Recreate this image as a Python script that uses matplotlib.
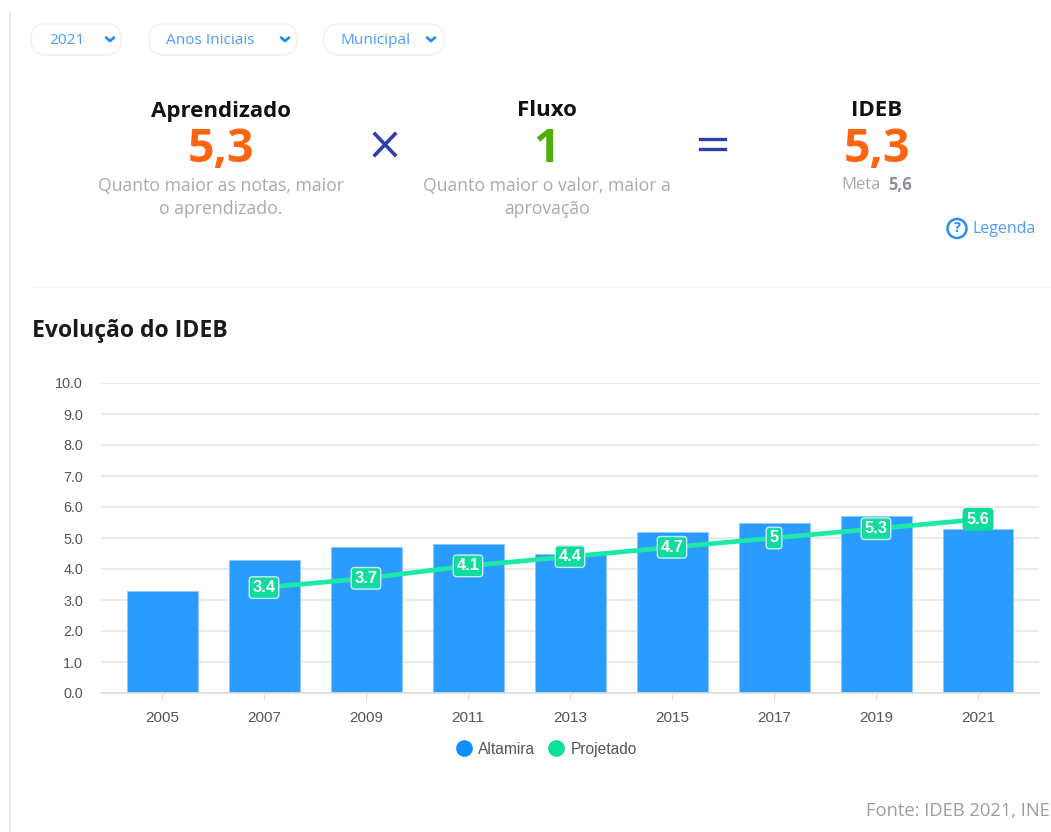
import matplotlib
matplotlib.use('Agg')
import matplotlib.pyplot as plt
from matplotlib.lines import Line2D
from matplotlib.patches import FancyBboxPatch, Circle

W, H = 1051, 832

years = ['2005', '2007', '2009', '2011', '2013', '2015', '2017', '2019', '2021']
altamira = [3.3, 4.3, 4.7, 4.8, 4.5, 5.2, 5.5, 5.7, 5.3]
projetado = [None, 3.4, 3.7, 4.1, 4.4, 4.7, 5, 5.3, 5.6]
y_ticks = [0, 1, 2, 3, 4, 5, 6, 7, 8, 9, 10]

filters = ['2021', 'Anos Iniciais', 'Municipal']
headers = ['Aprendizado', 'Fluxo', 'IDEB']
scores = ['5,3', '1', '5,3']

BLUE = '#2b9cff'
GREEN = '#1de9a6'
LABEL = '#0fdc9c'
ORANGE = '#ff6410'
GREY = '#a9a9b2'
UI = 'Open Sans'
AX_FONT = 'Liberation Sans'

fig = plt.figure(figsize=(W / 100, H / 100), dpi=100)

# page layer, in pixels
page = fig.add_axes([0, 0, 1, 1])
page.set_xlim(0, W)
page.set_ylim(H, 0)
page.axis('off')

page.plot([10, 10], [13, H], color='#e9e9e9', lw=1.2)
page.plot([31, W], [287, 287], color='#f6f6f6', lw=1)

pills = [(31, 121, 49, 110), (149, 297, 166, 285), (324, 444, 341, 431)]
for (x0, x1, tx, cx), label in zip(pills, filters):
    page.add_patch(FancyBboxPatch((x0 + 15, 24 + 15), x1 - x0 - 30, 1,
                                  boxstyle='round,pad=15', fc='white', ec='#f0f0f3', lw=1.1))
    page.text(tx, 40.5, label, color='#4a9dff', fontsize=11.1, family=UI, va='center')
    page.plot([cx - 4, cx, cx + 4], [37.5, 41, 37.5], color='#1c8cf5', lw=1.9,
              solid_capstyle='round', solid_joinstyle='round')

centers = [221, 547, 877]
colors = [ORANGE, '#4fae0a', ORANGE]
for cx, head, score, col in zip(centers, headers, scores, colors):
    page.text(cx, 111, head, color='#111111', fontsize=16, family=UI, fontweight='bold',
              ha='center', va='center')
    page.text(cx, 150, score, color=col, fontsize=33.5, family=UI, fontweight='bold',
              ha='center', va='center')

page.text(221, 186, 'Quanto maior as notas, maior', color=GREY, fontsize=12.7, family=UI,
          ha='center', va='center')
page.text(221, 209, 'o aprendizado.', color=GREY, fontsize=12.7, family=UI,
          ha='center', va='center')
page.text(547, 186, 'Quanto maior o valor, maior a', color=GREY, fontsize=12.7, family=UI,
          ha='center', va='center')
page.text(547, 209, 'aprovação', color=GREY, fontsize=12.7, family=UI,
          ha='center', va='center')
page.text(841, 185, 'Meta', color=GREY, fontsize=12, family=UI, va='center')
page.text(888, 185, '5,6', color='#8f8f99', fontsize=12, family=UI, fontweight='bold', va='center')

# operators
page.plot([375, 395], [134, 155], color='#2f3fa8', lw=2.6)
page.plot([395, 375], [134, 155], color='#2f3fa8', lw=2.6)
page.plot([700, 725], [139, 139], color='#2f3fa8', lw=2.4)
page.plot([700, 725], [149, 149], color='#2f3fa8', lw=2.4)

# legenda link
page.add_patch(Circle((957, 228.5), 9.5, fc='white', ec='#2a8cf5', lw=1.8))
page.text(957, 228.5, '?', color='#2a8cf5', fontsize=10.5, fontweight='bold', family=UI,
          ha='center', va='center')
page.text(973, 229, 'Legenda', color='#4a9dff', fontsize=11.5, family=UI, va='center')

page.text(32, 331, 'Evolução do IDEB', color='#1a1a1a', fontsize=16.6, family=UI,
          fontweight='bold', va='center')
page.text(W - 1, 811, 'Fonte: IDEB 2021, INE', color='#9c9ca3', fontsize=13.2, family=UI,
          ha='right', va='center')

# chart
left, right, top, bottom = 101, 1039, 383, 693
ax = fig.add_axes([left / W, 1 - bottom / H, (right - left) / W, (bottom - top) / H])
ax.patch.set_alpha(0)
pad = 10 / 102
ax.set_xlim(-0.5 - pad, 8.5 + pad)
ax.set_ylim(0, 10)
x = list(range(len(years)))

ax.bar(x, altamira, width=71 / 102, color=BLUE, edgecolor='#8cc8ff', linewidth=0.6, zorder=2)
px = [i for i, v in zip(x, projetado) if v is not None]
py = [v for v in projetado if v is not None]
ax.plot(px, py, color=GREEN, lw=3.4, zorder=3, solid_capstyle='butt')

for i, v in zip(px, py):
    edge = LABEL if i == px[-1] else '#c8ecff'
    ax.text(i, v, str(v), color='white', fontsize=11.8, fontweight='bold', family=AX_FONT,
            ha='center', va='center', zorder=4,
            bbox=dict(boxstyle='round,pad=0.2,rounding_size=0.2', fc=LABEL, ec=edge, lw=1))

for s in ['top', 'right', 'left']:
    ax.spines[s].set_visible(False)
ax.spines['bottom'].set_color('#dddddd')
ax.spines['bottom'].set_linewidth(1.2)
ax.set_xticks(x)
ax.set_xticklabels(years)
ax.set_yticks(y_ticks)
ax.set_yticklabels([f'{t:.1f}' for t in y_ticks])
ax.tick_params(axis='x', length=5, color='#dddddd', pad=8, labelsize=11, labelcolor='#555555')
ax.tick_params(axis='y', length=0, pad=13, labelsize=10.4, labelcolor='#555555')
for lab in ax.get_xticklabels() + ax.get_yticklabels():
    lab.set_family(AX_FONT)
ax.yaxis.grid(True, color='#e4e4e4', lw=1.1, zorder=0)
ax.set_axisbelow(True)

handles = [Line2D([], [], ls='', marker='o', ms=11, color='#0f8fff', label='Altamira'),
           Line2D([], [], ls='', marker='o', ms=11, color='#0bdf9a', label='Projetado')]
ax.legend(handles=handles, loc='upper center', bbox_to_anchor=(0.471, -0.112), ncol=2, frameon=False,
          handletextpad=-0.1, columnspacing=0.35, prop={'family': AX_FONT, 'size': 11.2},
          labelcolor='#555555')

fig.savefig('out.png', dpi=100)
